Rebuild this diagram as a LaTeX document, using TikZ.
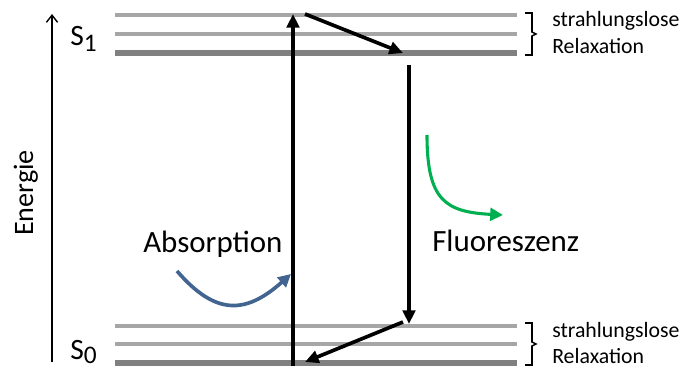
\documentclass[tikz,border=0pt]{standalone}
\usepackage{fontspec}
\setmainfont{Carlito}
\usepackage{xcolor}
\usetikzlibrary{arrows.meta}

\definecolor{levelgray}{RGB}{166,166,166}
\definecolor{groundgray}{RGB}{128,128,128}
\definecolor{absblue}{RGB}{65,100,145}
\definecolor{fluogreen}{RGB}{0,176,80}

\begin{document}
\begin{tikzpicture}[
  x=0.025cm, y=-0.025cm,
  big/.style={font=\fontsize{22}{26}\selectfont, inner sep=0pt, anchor=base west},
  small/.style={font=\fontsize{15.5}{18}\selectfont, inner sep=0pt, anchor=base west},
  statelbl/.style={font=\fontsize{21}{24}\selectfont, inner sep=0pt, anchor=base west},
  level/.style={draw=levelgray, line width=2.7pt},
  ground/.style={draw=groundgray, line width=4.8pt},
  trans/.style={-{Triangle[length=3.4mm, width=3.1mm]}, line width=2.6pt},
  curvearrow/.style={-{Triangle[length=3.2mm, width=3.2mm]}, line width=2.6pt},
  axis/.style={-{Straight Barb[length=1.8mm, width=2.8mm]}, line width=1pt},
  relax/.style={line width=1.1pt, line join=miter}
]
\useasboundingbox (0,0) rectangle (686,368);

% energy levels
\foreach \ly in {15,34,326,344} \draw[level] (115,\ly) -- (517,\ly);
\draw[ground] (115,53) -- (517,53);
\draw[ground] (115,363) -- (517,363);

% end points of the transitions
\coordinate (AbsFrom) at (293,366);
\coordinate (AbsTo) at (293,14);
\coordinate (RelTopFrom) at (305,14);
\coordinate (RelTopTo) at (403,53);
\coordinate (FluFrom) at (409,65);
\coordinate (FluTo) at (409,324);
\coordinate (RelBotFrom) at (403,322);
\coordinate (RelBotTo) at (305,362);
\coordinate (AxisFrom) at (52,362);
\coordinate (AxisTo) at (52,14);

\draw[axis] (AxisFrom) -- (AxisTo);
\draw[trans] (AbsFrom) -- (AbsTo);
\draw[trans] (RelTopFrom) -- (RelTopTo);
\draw[trans] (FluFrom) -- (FluTo);
\draw[trans] (RelBotFrom) -- (RelBotTo);

% curved hints
\coordinate (BlueFrom) at (177,271);
\coordinate (BlueTo) at (291,274);
\coordinate (GreenFrom) at (427,135);
\coordinate (GreenTo) at (503,215);
\draw[curvearrow, draw=absblue] (BlueFrom) .. controls (215,315) and (245,315) .. (BlueTo);
\draw[curvearrow, draw=fluogreen, line width=2.2pt] (GreenFrom) .. controls (427,200) and (445,212) .. (GreenTo);

% brackets
\foreach \dy in {0,310}
  \draw[relax] (525,13+\dy) -- (532,13+\dy) -- (532,32+\dy) -- (536,34+\dy)
    -- (532,36+\dy) -- (532,55+\dy) -- (525,55+\dy);

\node[statelbl] (S1) at (70,45) {S\raisebox{-4.5pt}{\fontsize{18}{18}\selectfont 1}};
\node[statelbl] (S0) at (70,359) {S\raisebox{-3pt}{\fontsize{18}{18}\selectfont 0}};
\node[font=\fontsize{20}{24}\selectfont, inner sep=0pt, rotate=90, anchor=base] (Energy) at (33,193) {Energie};
\node[big] (Abs) at (143,252) {Absorption};
\node[big] (Flu) at (432,251) {Fluoreszenz};
\node[small] (RelTopA) at (552,27) {strahlungslose};
\node[small] (RelTopB) at (552,53) {Relaxation};
\node[small] (RelBotA) at (552,337) {strahlungslose};
\node[small] (RelBotB) at (552,363) {Relaxation};
\end{tikzpicture}
\end{document}
